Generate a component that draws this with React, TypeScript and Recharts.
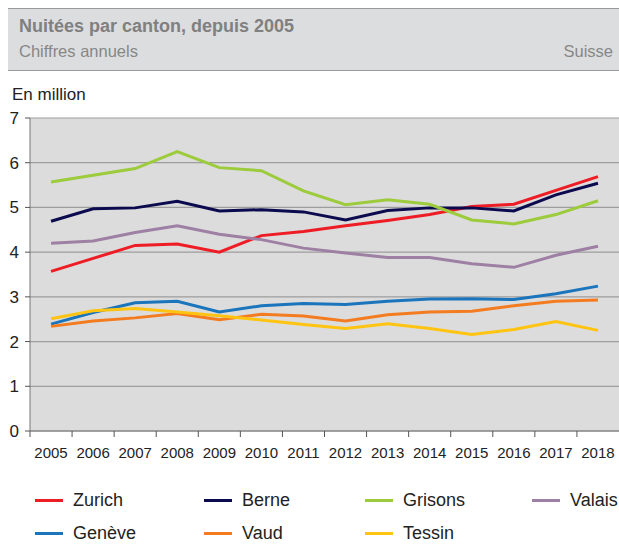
import { LineChart, Line, XAxis, YAxis, CartesianGrid } from 'recharts';

const years = [2005, 2006, 2007, 2008, 2009, 2010, 2011, 2012, 2013, 2014, 2015, 2016, 2017, 2018];
const zurich = [3.57, 3.86, 4.15, 4.18, 4.0, 4.37, 4.46, 4.59, 4.71, 4.84, 5.02, 5.07, 5.38, 5.69];
const berne = [4.69, 4.97, 4.99, 5.14, 4.92, 4.95, 4.9, 4.72, 4.93, 4.99, 4.99, 4.92, 5.28, 5.54];
const grisons = [5.57, 5.72, 5.87, 6.25, 5.89, 5.82, 5.37, 5.06, 5.17, 5.07, 4.72, 4.63, 4.84, 5.15];
const valais = [4.2, 4.25, 4.44, 4.59, 4.4, 4.28, 4.09, 3.98, 3.88, 3.88, 3.74, 3.66, 3.93, 4.13];
const geneve = [2.39, 2.65, 2.87, 2.9, 2.66, 2.8, 2.85, 2.83, 2.9, 2.95, 2.96, 2.94, 3.07, 3.24];
const vaud = [2.34, 2.46, 2.53, 2.63, 2.49, 2.61, 2.57, 2.46, 2.6, 2.66, 2.68, 2.8, 2.9, 2.93];
const tessin = [2.51, 2.69, 2.74, 2.66, 2.58, 2.48, 2.38, 2.29, 2.4, 2.29, 2.16, 2.27, 2.45, 2.25];
const yTicks = [0, 1, 2, 3, 4, 5, 6, 7];

const series = [
  { key: 'Zurich', values: zurich, color: '#ee1c25' },
  { key: 'Berne', values: berne, color: '#0b0a4e' },
  { key: 'Grisons', values: grisons, color: '#9ccb3b' },
  { key: 'Valais', values: valais, color: '#9d80a3' },
  { key: 'Genève', values: geneve, color: '#1b75bc' },
  { key: 'Vaud', values: vaud, color: '#f47c20' },
  { key: 'Tessin', values: tessin, color: '#ffc311' },
];

const data = years.map((year, i) => {
  const row: Record<string, number> = { year };
  series.forEach((s) => (row[s.key] = s.values[i]));
  return row;
});

const FONT = '"Liberation Sans", Arial, sans-serif';
const CHART_W = 619;
const PLOT_LEFT = 30;
const BAND = (CHART_W - PLOT_LEFT) / years.length;
const legendCols = [35, 204, 365, 532];

// Jahreslabel in der Mitte, Teilstrich an der Grenze zwischen zwei Jahren
function YearTick(props: any) {
  const { x, y, payload } = props;
  return (
    <g>
      <line x1={x - BAND / 2} x2={x - BAND / 2} y1={y} y2={y + 6} stroke="#555" strokeWidth={1} />
      <text x={x} y={y + 27} textAnchor="middle" fontSize={15} fill="#222" fontFamily={FONT}>
        {payload.value}
      </text>
    </g>
  );
}

export default function App() {
  return (
    <div style={{ position: 'absolute', left: 0, top: 0, width: 619, height: 544, fontFamily: FONT, overflow: 'hidden' }}>
      <div
        style={{
          position: 'absolute',
          top: 8,
          left: 8,
          width: 611,
          height: 61,
          background: '#dcdddf',
          borderTop: '1.5px solid #9a9a9a',
          borderBottom: '1.5px solid #9a9a9a',
        }}
      >
        <div style={{ position: 'absolute', left: 11, top: 7, fontSize: 18, fontWeight: 'bold', color: '#808080', whiteSpace: 'nowrap' }}>
          Nuitées par canton, depuis 2005
        </div>
        <div style={{ position: 'absolute', left: 11, top: 33, fontSize: 16.5, color: '#878787' }}>Chiffres annuels</div>
        <div style={{ position: 'absolute', right: 6, top: 33, fontSize: 16.5, color: '#878787' }}>Suisse</div>
      </div>
      <div style={{ position: 'absolute', left: 12, top: 85, fontSize: 17, color: '#222' }}>En million</div>
      <div style={{ position: 'absolute', left: 0, top: 0 }}>
        <LineChart width={CHART_W} height={470} data={data} margin={{ top: 118, right: 0, left: 0, bottom: 9 }}>
          <CartesianGrid vertical={false} fill="#dcdcdc" stroke="#9d9d9d" strokeWidth={1.2} />
          <XAxis
            dataKey="year"
            type="number"
            domain={[2004.5, 2018.5]}
            ticks={years}
            interval={0}
            height={30}
            tickSize={0}
            tickMargin={0}
            tickLine={false}
            axisLine={{ stroke: '#777' }}
            tick={<YearTick />}
          />
          <YAxis
            domain={[0, 7]}
            ticks={yTicks}
            width={PLOT_LEFT}
            tickSize={5}
            tickMargin={6}
            tickLine={{ stroke: '#555' }}
            axisLine={{ stroke: '#777' }}
            tick={{ fontSize: 17, fill: '#222', fontFamily: FONT }}
          />
          {series.map((s) => (
            <Line
              key={s.key}
              dataKey={s.key}
              stroke={s.color}
              strokeWidth={3}
              dot={false}
              isAnimationActive={false}
            />
          ))}
        </LineChart>
      </div>
      {series.map((s, i) => (
        <div
          key={s.key}
          style={{
            position: 'absolute',
            left: legendCols[i % 4],
            top: i < 4 ? 488 : 521,
            height: 24,
            display: 'flex',
            alignItems: 'center',
            fontSize: 18,
            color: '#222',
          }}
        >
          <span style={{ display: 'inline-block', width: 28, height: 3, background: s.color, marginRight: 10 }} />
          {s.key}
        </div>
      ))}
    </div>
  );
}
